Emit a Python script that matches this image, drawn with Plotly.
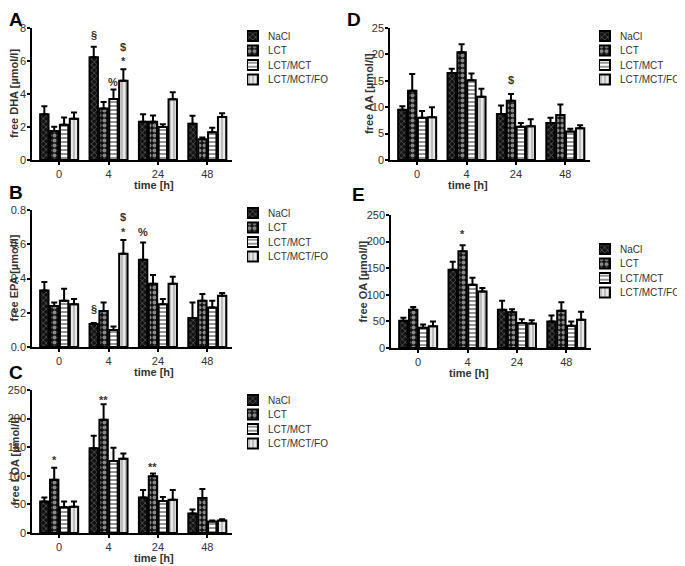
import plotly.graph_objects as go

# time points (categories)
times = ["0", "4", "24", "48"]
groups = ["NaCl", "LCT", "LCT/MCT", "LCT/MCT/FO"]

# A - free DHA
dha_nacl = [2.78, 6.22, 2.32, 2.2]
dha_lct = [1.76, 3.12, 2.32, 1.26]
dha_mct = [2.13, 3.7, 2.0, 1.68]
dha_fo = [2.5, 4.8, 3.68, 2.6]
dha_nacl_err = [0.48, 0.65, 0.45, 0.48]
dha_lct_err = [0.26, 0.4, 0.38, 0.1]
dha_mct_err = [0.45, 0.58, 0.17, 0.28]
dha_fo_err = [0.38, 0.7, 0.43, 0.24]

# B - free EPA
epa_nacl = [0.33, 0.135, 0.51, 0.17]
epa_lct = [0.24, 0.21, 0.37, 0.27]
epa_mct = [0.27, 0.10, 0.25, 0.23]
epa_fo = [0.25, 0.545, 0.37, 0.30]
epa_nacl_err = [0.05, 0.005, 0.10, 0.09]
epa_lct_err = [0.02, 0.05, 0.05, 0.04]
epa_mct_err = [0.07, 0.02, 0.03, 0.04]
epa_fo_err = [0.03, 0.08, 0.04, 0.015]

# C - free LOA
loa_nacl = [55, 148, 62, 34]
loa_lct = [93, 198, 99, 61]
loa_mct = [45, 126, 56, 20]
loa_fo = [46, 130, 58, 22]
loa_nacl_err = [7, 22, 13, 7]
loa_lct_err = [21, 27, 5, 16]
loa_mct_err = [10, 23, 7, 2]
loa_fo_err = [9, 9, 17, 2]

# D - free AA
aa_nacl = [9.5, 16.5, 8.7, 7.0]
aa_lct = [13.1, 20.4, 11.2, 8.5]
aa_mct = [8.0, 15.1, 6.3, 5.4]
aa_fo = [8.1, 12.0, 6.4, 6.0]
aa_nacl_err = [0.7, 0.8, 1.6, 1.0]
aa_lct_err = [3.2, 1.5, 1.3, 2.0]
aa_mct_err = [1.3, 1.3, 0.7, 0.5]
aa_fo_err = [1.9, 1.5, 1.3, 0.6]

# E - free OA
oa_nacl = [51, 147, 72, 50]
oa_lct = [72, 182, 67, 70]
oa_mct = [38, 119, 47, 42]
oa_fo = [41, 106, 46, 53]
oa_nacl_err = [6, 15, 17, 11]
oa_lct_err = [5, 11, 6, 16]
oa_mct_err = [6, 13, 7, 8]
oa_fo_err = [9, 7, 6, 15]

# significance marks: panel, time index, group index, text, y
marks = [
    ("A", 1, 0, "§", 7.6), ("A", 1, 2, "%", 4.75), ("A", 1, 3, "$", 6.85), ("A", 1, 3, "*", 6.0),
    ("B", 1, 0, "§", 0.22), ("B", 1, 3, "$", 0.76), ("B", 1, 3, "*", 0.67), ("B", 2, 0, "%", 0.67),
    ("C", 0, 1, "*", 128), ("C", 1, 1, "**", 232), ("C", 2, 1, "**", 116),
    ("D", 2, 1, "$", 15.2),
    ("E", 1, 1, "*", 215),
]

# the page has an 8px body margin, so the figure starts 8px in from the window edge
OFF = 8
W, H = 685 - OFF, 566 - OFF


def px(v):
    return (v - OFF) / W


def py(v):
    return 1 - (v - OFF) / H


panels = {
    # letter: data, errors, ylabel, ymax, dtick, tickformat, plot box (page px), legend (left, first item centre)
    "A": ([dha_nacl, dha_lct, dha_mct, dha_fo], [dha_nacl_err, dha_lct_err, dha_mct_err, dha_fo_err],
          "free DHA [µmol/l]", 8, 2, "", (32, 232, 28, 160), (247, 36)),
    "B": ([epa_nacl, epa_lct, epa_mct, epa_fo], [epa_nacl_err, epa_lct_err, epa_mct_err, epa_fo_err],
          "free EPA [µmol/l]", 0.8, 0.2, ".1f", (32, 232, 210, 347), (247, 213)),
    "C": ([loa_nacl, loa_lct, loa_mct, loa_fo], [loa_nacl_err, loa_lct_err, loa_mct_err, loa_fo_err],
          "free LOA [µmol/l]", 250, 50, "", (32, 232, 390, 533), (247, 400)),
    "D": ([aa_nacl, aa_lct, aa_mct, aa_fo], [aa_nacl_err, aa_lct_err, aa_mct_err, aa_fo_err],
          "free AA [µmol/l]", 25, 5, "", (390, 590, 28, 160), (599, 36)),
    "E": ([oa_nacl, oa_lct, oa_mct, oa_fo], [oa_nacl_err, oa_lct_err, oa_mct_err, oa_fo_err],
          "free OA [µmol/l]", 250, 50, "", (391, 591, 215, 348), (599, 249)),
}
letter_pos = {"A": (8, 8), "B": (8, 181), "C": (8, 361), "D": (346, 8), "E": (351, 183)}
ytitle_x = {"A": 14, "B": 14, "C": 14, "D": 369, "E": 363}

shapes_ = ["x", ".", "-", "|"]
fgs = ["#9a9a9a", "white", "#111111", "#555555"]
bgs = ["#111111", "#111111", "white", "#e8e8e8"]
sizes = [4, 5, 4, 4]
solid = [0.35, 0.5, 0.45, 0.3]

FONT = "Arial, Liberation Sans, sans-serif"
TXT = "#333"
fig = go.Figure()
layout = {}
annotations = []
ITEM = 14.5

for k, (letter, (series, errs, ylabel, ymax, dtick, tfmt, box, lpos)) in enumerate(panels.items()):
    n = k + 1
    xa = "x" if n == 1 else f"x{n}"
    ya = "y" if n == 1 else f"y{n}"
    for i, g in enumerate(groups):
        fig.add_trace(go.Bar(
            x=times, y=series[i], name=g, xaxis=xa, yaxis=ya, showlegend=False,
            offsetgroup=str(i),
            marker=dict(pattern=dict(shape=shapes_[i], fgcolor=fgs[i], bgcolor=bgs[i],
                                     size=sizes[i], solidity=solid[i]),
                        line=dict(color="black", width=2)),
            error_y=dict(type="data", array=errs[i], symmetric=False,
                         arrayminus=[0] * len(errs[i]), color="black",
                         thickness=2, width=3),
        ))
    x0, x1, y0, y1 = box
    axis_common = dict(showline=True, linecolor="black", linewidth=1.5, automargin=False,
                       ticks="outside", ticklen=3, tickwidth=1.5, tickcolor="black",
                       showgrid=False, zeroline=False,
                       tickfont=dict(family=FONT, size=11, color=TXT))
    layout["xaxis" if n == 1 else f"xaxis{n}"] = dict(
        axis_common, domain=[px(x0), px(x1)], anchor=ya,
        range=[-0.55, 3.5], type="category",
    )
    layout["yaxis" if n == 1 else f"yaxis{n}"] = dict(
        axis_common, domain=[py(y1), py(y0)], anchor=xa,
        range=[0, ymax], dtick=dtick, tickformat=tfmt, ticklabelstandoff=-1,
    )
    annotations.append(dict(text="<b>time [h]</b>", x=px((x0 + x1) / 2), y=py(y1 + 25),
                            xref="paper", yref="paper", showarrow=False, yanchor="middle",
                            font=dict(family=FONT, size=11, color=TXT)))
    annotations.append(dict(text=f"<b>{ylabel}</b>", x=px(ytitle_x[letter]), y=py((y0 + y1) / 2),
                            xref="paper", yref="paper", showarrow=False, textangle=-90,
                            xanchor="center", yanchor="middle",
                            font=dict(family=FONT, size=11, color=TXT)))

    # legend drawn as a small patterned bar chart with labels on the right
    m = n + 5
    lxa, lya = f"x{m}", f"y{m}"
    lx, lyc = lpos
    top = lyc - ITEM / 2
    fig.add_trace(go.Bar(
        x=[1] * len(groups), y=groups, orientation="h", xaxis=lxa, yaxis=lya,
        showlegend=False, hoverinfo="skip",
        marker=dict(pattern=dict(shape=shapes_, fgcolor=fgs, bgcolor=bgs, size=sizes, solidity=solid),
                    line=dict(color="black", width=2)),
    ))
    layout[f"xaxis{m}"] = dict(domain=[px(lx), px(lx + 20)], anchor=lya, range=[0, 20 / 11],
                               visible=False, fixedrange=True)
    layout[f"yaxis{m}"] = dict(domain=[py(top + ITEM * 4), py(top)], anchor=lxa,
                               type="category", categoryarray=groups[::-1], side="right",
                               showline=False, showgrid=False, zeroline=False, ticks="",
                               automargin=False, fixedrange=True,
                               tickfont=dict(family=FONT, size=10, color=TXT))

    tx, ty = letter_pos[letter]
    annotations.append(dict(text=f"<b>{letter}</b>", x=px(tx), y=py(ty), xref="paper", yref="paper",
                            xanchor="left", yanchor="top", showarrow=False, borderpad=0,
                            font=dict(family=FONT, size=19, color="black")))
    for (p, ti, gi, txt, yv) in marks:
        if p != letter:
            continue
        annotations.append(dict(text=f"<b>{txt}</b>", x=ti - 0.3 + 0.2 * gi, y=yv,
                                xref=xa, yref=ya, showarrow=False, yanchor="middle",
                                font=dict(family=FONT, size=11, color=TXT)))

fig.update_layout(
    width=W, height=H, margin=dict(l=0, r=0, t=0, b=0),
    paper_bgcolor="white", plot_bgcolor="white",
    barmode="group", bargap=0.2, bargroupgap=0.15,
    annotations=annotations, showlegend=False,
    **layout,
)

fig.write_html("out.html")
